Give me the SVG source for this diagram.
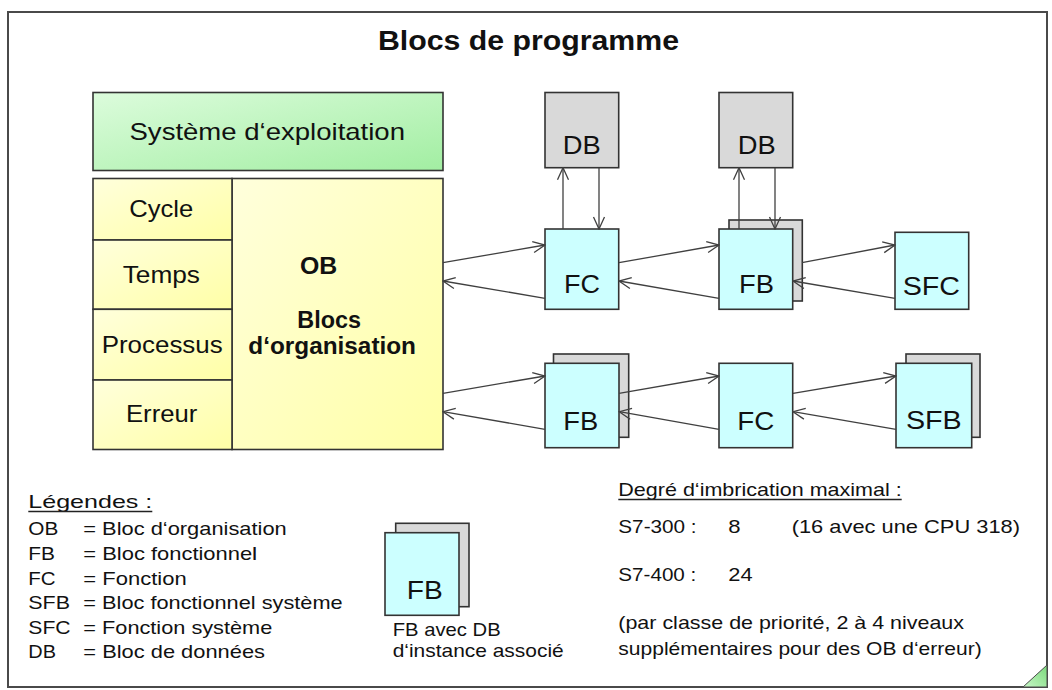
<svg xmlns="http://www.w3.org/2000/svg" width="1052" height="690" viewBox="0 0 1052 690">
  <defs>
    <linearGradient id="gGreen" x1="0" y1="0" x2="1" y2="1">
      <stop offset="0" stop-color="#dcfcdc"/>
      <stop offset="1" stop-color="#a2eea2"/>
    </linearGradient>
    <linearGradient id="gYellow" x1="0" y1="0" x2="1" y2="1">
      <stop offset="0" stop-color="#ffffdc"/>
      <stop offset="1" stop-color="#ffffa6"/>
    </linearGradient>
    <linearGradient id="gCorner" x1="0" y1="1" x2="1" y2="0">
      <stop offset="0" stop-color="#c8f8c8"/>
      <stop offset="1" stop-color="#7ad87a"/>
    </linearGradient>
    <marker id="arr" markerUnits="userSpaceOnUse" markerWidth="14" markerHeight="14" viewBox="0 0 14 14" refX="13" refY="7" orient="auto">
      <path d="M1,1.5 L13,7 L1,12.5" fill="none" stroke="#404040" stroke-width="1.3"/>
    </marker>
    <style>
      text { font-family: "Liberation Sans", Arial, sans-serif; fill: #111; }
      .title { font-size: 28px; font-weight: bold; }
      .sys { font-size: 24px; }
      .cell { font-size: 24px; text-anchor: start; }
      .obt { font-size: 23px; font-weight: bold; }
      .lbl { font-size: 26px; }
      .leg { font-size: 19px; }
      .box { stroke: #333; stroke-width: 1.6; }
      .cyan { fill: #ccffff; }
      .gray { fill: #d9d9d9; }
      .sep { stroke: #333; stroke-width: 1.6; }
      .conn line { stroke: #404040; stroke-width: 1.3; marker-end: url(#arr); }
      .ul { stroke: #222; stroke-width: 1.3; }
    </style>
  </defs>

  <rect x="0" y="0" width="1052" height="690" fill="#ffffff"/>

  <!-- page frame with folded corner -->
  <rect x="8" y="12" width="1039" height="675" fill="#ffffff" stroke="#4a4a4a" stroke-width="2"/>
  <polygon points="1023,687 1047,687 1047,665" fill="url(#gCorner)" stroke="#4a4a4a" stroke-width="1"/>

  <text class="title" x="378" y="50" textLength="301" lengthAdjust="spacingAndGlyphs">Blocs de programme</text>

  <!-- operating system -->
  <g id="systeme">
    <rect class="box" x="93" y="92.5" width="350" height="78" fill="url(#gGreen)"/>
    <text class="sys" x="129.5" y="139.5" textLength="275.5" lengthAdjust="spacingAndGlyphs">Système d‘exploitation</text>
  </g>

  <!-- organisation blocks with their event classes -->
  <g id="ob">
    <rect class="box" x="232" y="178.5" width="211" height="271" fill="url(#gYellow)"/>
    <text class="obt" x="300" y="274" textLength="37.3" lengthAdjust="spacingAndGlyphs">OB</text>
    <text class="obt" x="297.3" y="328.3" textLength="63.7" lengthAdjust="spacingAndGlyphs">Blocs</text>
    <text class="obt" x="248.3" y="354" textLength="167.7" lengthAdjust="spacingAndGlyphs">d‘organisation</text>
  </g>
  <g id="cycle">
    <rect class="box" x="93" y="178.5" width="139" height="61.5" fill="url(#gYellow)"/>
    <text class="cell" x="129.3" y="216.7" textLength="64" lengthAdjust="spacingAndGlyphs">Cycle</text>
  </g>
  <g id="temps">
    <rect class="box" x="93" y="240" width="139" height="69.3" fill="url(#gYellow)"/>
    <text class="cell" x="122.7" y="282.7" textLength="77.3" lengthAdjust="spacingAndGlyphs">Temps</text>
  </g>
  <g id="processus">
    <rect class="box" x="93" y="309.3" width="139" height="70.7" fill="url(#gYellow)"/>
    <text class="cell" x="101.7" y="352.7" textLength="121" lengthAdjust="spacingAndGlyphs">Processus</text>
  </g>
  <g id="erreur">
    <rect class="box" x="93" y="380" width="139" height="69.5" fill="url(#gYellow)"/>
    <text class="cell" x="126" y="421.7" textLength="71.3" lengthAdjust="spacingAndGlyphs">Erreur</text>
  </g>

  <!-- upper call chain -->
  <g id="db1">
    <rect class="box gray" x="545" y="92.5" width="73.7" height="75.2"/>
    <text class="lbl" x="562.7" y="154" textLength="38" lengthAdjust="spacingAndGlyphs">DB</text>
  </g>
  <g id="fc1">
    <rect class="box cyan" x="545" y="229" width="73.7" height="80.3"/>
    <text class="lbl" x="564" y="293.3" textLength="36" lengthAdjust="spacingAndGlyphs">FC</text>
  </g>
  <g id="db2">
    <rect class="box gray" x="719" y="92.5" width="73.7" height="75.2"/>
    <text class="lbl" x="737.7" y="154" textLength="38" lengthAdjust="spacingAndGlyphs">DB</text>
  </g>
  <g id="fb1">
    <rect class="box gray" x="729" y="220" width="73.3" height="81"/>
    <rect class="box cyan" x="719" y="229" width="73.7" height="80.3"/>
    <text class="lbl" x="739" y="293.3" textLength="35" lengthAdjust="spacingAndGlyphs">FB</text>
  </g>
  <g id="sfc">
    <rect class="box cyan" x="895" y="232.3" width="73.7" height="77"/>
    <text class="lbl" x="902.7" y="295" textLength="57.3" lengthAdjust="spacingAndGlyphs">SFC</text>
  </g>

  <!-- lower call chain -->
  <g id="fb2">
    <rect class="box gray" x="553.5" y="354" width="75.2" height="83.3"/>
    <rect class="box cyan" x="545" y="363.3" width="74" height="84.4"/>
    <text class="lbl" x="563.3" y="430" textLength="35" lengthAdjust="spacingAndGlyphs">FB</text>
  </g>
  <g id="fc2">
    <rect class="box cyan" x="719" y="363.3" width="73.7" height="84.4"/>
    <text class="lbl" x="737.3" y="430" textLength="37" lengthAdjust="spacingAndGlyphs">FC</text>
  </g>
  <g id="sfb">
    <rect class="box gray" x="906" y="354" width="74" height="83.3"/>
    <rect class="box cyan" x="896" y="363.3" width="75.7" height="84.4"/>
    <text class="lbl" x="906" y="429.3" textLength="55.7" lengthAdjust="spacingAndGlyphs">SFB</text>
  </g>

  <!-- calls and returns -->
  <g id="connectors" class="conn">
    <line x1="443" y1="262.7" x2="545" y2="245"/>
    <line x1="545" y1="298.3" x2="443" y2="281"/>
    <line x1="563" y1="229" x2="563" y2="167.7"/>
    <line x1="599" y1="167.7" x2="599" y2="229"/>
    <line x1="619" y1="262.7" x2="719" y2="245"/>
    <line x1="719" y1="298.3" x2="619" y2="281"/>
    <line x1="739" y1="229" x2="739" y2="167.7"/>
    <line x1="775" y1="167.7" x2="775" y2="229"/>
    <line x1="802" y1="262.7" x2="895" y2="245"/>
    <line x1="895" y1="298.3" x2="793" y2="281"/>

    <line x1="443" y1="393.3" x2="545" y2="376"/>
    <line x1="545" y1="429.3" x2="443" y2="411.7"/>
    <line x1="619" y1="393.3" x2="719" y2="376"/>
    <line x1="719" y1="429.3" x2="619.3" y2="411.7"/>
    <line x1="793" y1="393.3" x2="896" y2="376"/>
    <line x1="896" y1="429.3" x2="793" y2="411.7"/>
  </g>

  <!-- legend -->
  <g id="legende">
    <text class="leg" x="28.3" y="508.3" textLength="124" lengthAdjust="spacingAndGlyphs">Légendes :</text>
    <line class="ul" x1="28.3" y1="511.5" x2="152.3" y2="511.5"/>

    <text class="leg" x="28.3" y="535" textLength="30" lengthAdjust="spacingAndGlyphs">OB</text>
    <text class="leg" x="83.3" y="535" textLength="203.4" lengthAdjust="spacingAndGlyphs">= Bloc d‘organisation</text>
    <text class="leg" x="28.3" y="560" textLength="26.7" lengthAdjust="spacingAndGlyphs">FB</text>
    <text class="leg" x="83.3" y="560" textLength="173.7" lengthAdjust="spacingAndGlyphs">= Bloc fonctionnel</text>
    <text class="leg" x="28.3" y="584.6" textLength="27.3" lengthAdjust="spacingAndGlyphs">FC</text>
    <text class="leg" x="83.3" y="584.6" textLength="103.4" lengthAdjust="spacingAndGlyphs">= Fonction</text>
    <text class="leg" x="28.3" y="609.2" textLength="41.7" lengthAdjust="spacingAndGlyphs">SFB</text>
    <text class="leg" x="83.3" y="609.2" textLength="259.4" lengthAdjust="spacingAndGlyphs">= Bloc fonctionnel système</text>
    <text class="leg" x="28.3" y="633.8" textLength="42.3" lengthAdjust="spacingAndGlyphs">SFC</text>
    <text class="leg" x="83.3" y="633.8" textLength="189" lengthAdjust="spacingAndGlyphs">= Fonction système</text>
    <text class="leg" x="28.3" y="658.4" textLength="27.7" lengthAdjust="spacingAndGlyphs">DB</text>
    <text class="leg" x="83.3" y="658.4" textLength="181.7" lengthAdjust="spacingAndGlyphs">= Bloc de données</text>
  </g>

  <g id="fb-instance">
    <rect class="box gray" x="395.7" y="523.3" width="73.3" height="83.4"/>
    <rect class="box cyan" x="385" y="532.7" width="74" height="82.6"/>
    <text class="lbl" x="406.7" y="599.3" textLength="36" lengthAdjust="spacingAndGlyphs">FB</text>
    <text class="leg" x="392.7" y="636" textLength="108" lengthAdjust="spacingAndGlyphs">FB avec DB</text>
    <text class="leg" x="392.7" y="656.7" textLength="171" lengthAdjust="spacingAndGlyphs">d‘instance associé</text>
  </g>

  <!-- nesting depth notes -->
  <g id="imbrication">
    <text class="leg" x="618.3" y="496" textLength="283.4" lengthAdjust="spacingAndGlyphs">Degré d‘imbrication maximal :</text>
    <line class="ul" x1="618.3" y1="499.5" x2="901.7" y2="499.5"/>
    <text class="leg" x="618.3" y="533.3" textLength="78.3" lengthAdjust="spacingAndGlyphs">S7-300 :</text>
    <text class="leg" x="728.3" y="533.3" textLength="12.3" lengthAdjust="spacingAndGlyphs">8</text>
    <text class="leg" x="791.7" y="533.3" textLength="228.3" lengthAdjust="spacingAndGlyphs">(16 avec une CPU 318)</text>
    <text class="leg" x="618.3" y="581" textLength="78" lengthAdjust="spacingAndGlyphs">S7-400 :</text>
    <text class="leg" x="728.3" y="581" textLength="24.3" lengthAdjust="spacingAndGlyphs">24</text>
    <text class="leg" x="618.3" y="629.3" textLength="345.7" lengthAdjust="spacingAndGlyphs">(par classe de priorité, 2 à 4 niveaux</text>
    <text class="leg" x="618.3" y="655" textLength="363.4" lengthAdjust="spacingAndGlyphs">supplémentaires pour des OB d‘erreur)</text>
  </g>
</svg>
